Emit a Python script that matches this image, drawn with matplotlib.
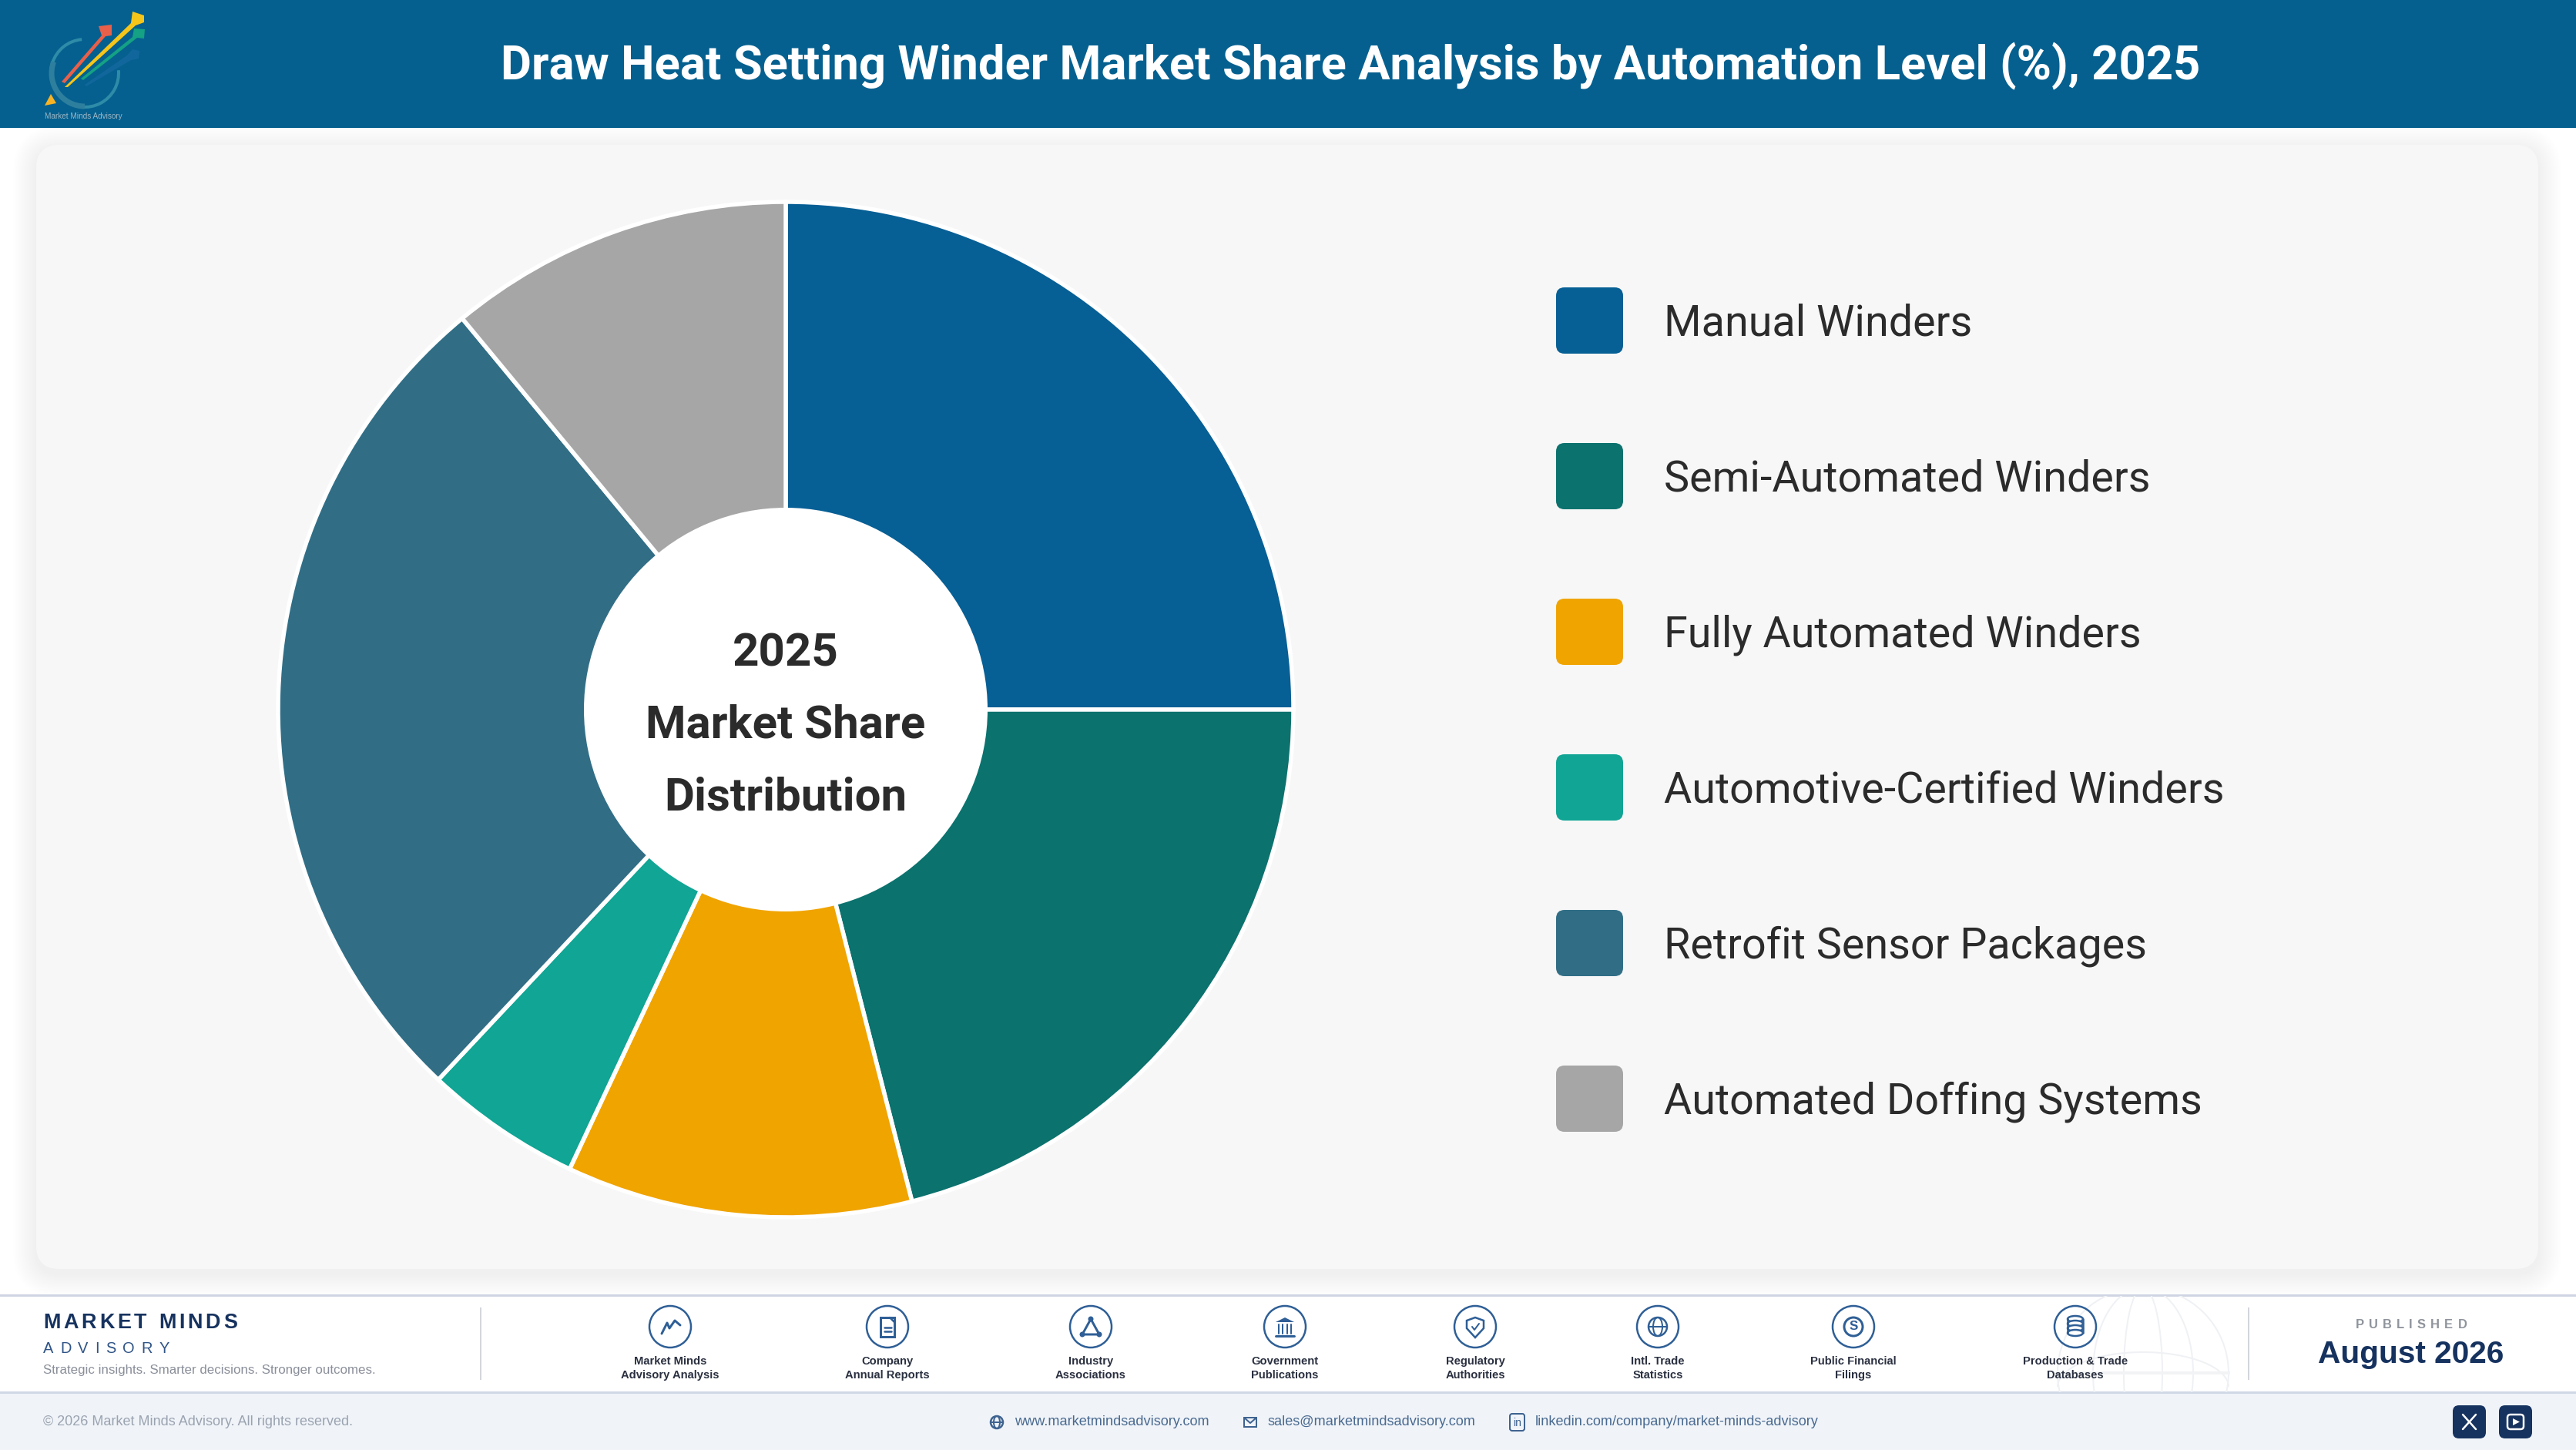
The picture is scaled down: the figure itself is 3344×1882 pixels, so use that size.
#!/usr/bin/env python

"""Draw Heat Setting Winder market share donut, with the report header and footer."""

import numpy as np
import matplotlib
matplotlib.use("Agg")
import matplotlib.pyplot as plt
from matplotlib.patches import FancyBboxPatch, Circle, Ellipse, Arc, Polygon, Rectangle
from matplotlib.font_manager import FontProperties

W, H = 3344, 1882
DPI = 100

title = "Draw Heat Setting Winder Market Share Analysis by Automation Level (%), 2025"
categories = [
    "Manual Winders",
    "Semi-Automated Winders",
    "Fully Automated Winders",
    "Automotive-Certified Winders",
    "Retrofit Sensor Packages",
    "Automated Doffing Systems",
]
shares = [25, 21, 11, 5, 27, 11]
colors = ["#065F95", "#0B726E", "#F0A400", "#10A594", "#316E86", "#A6A6A6"]
center_lines = ["2025", "Market Share", "Distribution"]
source_labels = [
    "Market Minds\nAdvisory Analysis",
    "Company\nAnnual Reports",
    "Industry\nAssociations",
    "Government\nPublications",
    "Regulatory\nAuthorities",
    "Intl. Trade\nStatistics",
    "Public Financial\nFilings",
    "Production & Trade\nDatabases",
]
source_x = [870, 1152, 1416, 1668, 1915, 2152, 2406, 2694]

NAVY = "#16325F"
ICON = "#2F5F96"
HEAD = "#05608F"
DARK = "#2B2B2B"
SANS = "Liberation Sans"


def pt(px):
    # sizes below are given in image pixels
    return px * 72 / DPI


fig = plt.figure(figsize=(W / DPI, H / DPI), dpi=DPI, facecolor="white")
bg = fig.add_axes([0, 0, 1, 1])
bg.set_xlim(0, W)
bg.set_ylim(H, 0)
bg.set_axis_off()


def box(x0, y0, x1, y1, color, r=0, **kw):
    p = FancyBboxPatch((x0, y0), x1 - x0, y1 - y0, boxstyle=f"round,pad=0,rounding_size={r}",
                       fc=color, ec="none", **kw)
    bg.add_patch(p)
    return p


def spaced(x, y, s, size, gap, center=False, **kw):
    # matplotlib has no letter spacing, so place it one character at a time
    fp = FontProperties(family=SANS, weight=kw.pop("weight", "normal"), size=pt(size))
    rend = fig.canvas.get_renderer()
    widths = [rend.get_text_width_height_descent(s[:i], fp, False)[0] if i else 0
              for i in range(len(s) + 1)]
    total = widths[-1] + gap * (len(s) - 1)
    start = x - total / 2 if center else x
    for i, ch in enumerate(s):
        bg.text(start + widths[i] + gap * i, y, ch, fontproperties=fp, ha="left", va="center", **kw)


# header band
bg.add_patch(Rectangle((0, 0), W, 166, fc=HEAD, ec="none"))
bg.text(1753, 86, title, family="Roboto", weight="bold", size=pt(61.5), color="white",
        ha="center", va="center")

# logo
bg.add_patch(Arc((110, 95), 88, 88, theta1=-5, theta2=265, ec="#2E8CA8", lw=pt(4)))
bg.add_patch(Arc((110, 95), 86, 86, theta1=90, theta2=200, ec="#2E7F9E", lw=pt(7)))
bg.add_patch(Polygon([(80, 106), (132, 46), (128, 34), (145, 32), (145, 46), (137, 47), (84, 108)], fc="#E8604A"))
bg.add_patch(Polygon([(84, 113), (170, 30), (172, 15), (187, 20), (187, 29), (176, 33), (88, 113)], fc="#F6C519"))
bg.add_patch(Polygon([(105, 102), (172, 48), (174, 37), (188, 38), (187, 50), (178, 49), (108, 104)], fc="#14A184"))
bg.add_patch(Polygon([(110, 110), (165, 72), (172, 64), (181, 66), (180, 76), (170, 78), (112, 112)], fc="#1A6DA5", alpha=0.6))
bg.add_patch(Polygon([(58, 137), (73, 134), (66, 122)], fc="#F8B324"))
bg.text(58, 151, "Market Minds Advisory", family=SANS, size=pt(10), color="#9DB6C4", va="center")

# card with soft shadow
for grow in range(30, 0, -2):
    box(47 - grow, 188 - grow + 6, 3295 + grow, 1647 + grow + 6, "black", r=30 + grow, alpha=0.004, zorder=1)
box(47, 188, 3295, 1647, "#F7F7F7", r=30, zorder=2)

# donut
cx, cy, rad, hole = 1020, 921, 659, 262
pie_ax = fig.add_axes([(cx - rad) / W, 1 - (cy + rad) / H, 2 * rad / W, 2 * rad / H])
pie_ax.pie(shares, colors=colors, startangle=90, counterclock=False, radius=1,
           wedgeprops=dict(edgecolor="white", linewidth=pt(5.5), clip_on=False))
pie_ax.add_patch(Circle((0, 0), hole / rad, fc="white", ec="none", zorder=5))
pie_ax.set_xlim(-1, 1)
pie_ax.set_ylim(-1, 1)
pie_ax.set_axis_off()

for line, y in zip(center_lines, [848, 942, 1036]):
    fig.text(cx / W, 1 - y / H, line, family="Roboto", weight="bold", size=pt(60), color=DARK,
             ha="center", va="center", zorder=10)

# legend
legend_y = [416, 618, 820, 1022, 1224, 1426]
for name, col, y in zip(categories, colors, legend_y):
    box(2020, y - 43, 2107, y + 43, col, r=11, zorder=3)
    bg.text(2160, y + 4, name, family="Roboto", size=pt(55.7), color=DARK, va="center", zorder=3)

# footer bands
bg.add_patch(Rectangle((0, 1682), W, 125, fc="white", ec="none", zorder=3))
bg.add_patch(Rectangle((0, 1807), W, H - 1807, fc="#F0F4F9", ec="none", zorder=3))
bg.plot([0, W], [1681, 1681], color="#D0D5E3", lw=pt(3), zorder=4)
bg.plot([0, W], [1807, 1807], color="#D0D8E6", lw=pt(3), zorder=4)
bg.plot([624, 624], [1698, 1790], color="#D3D6DB", lw=pt(2), zorder=4)
bg.plot([2919, 2919], [1698, 1790], color="#D3D6DB", lw=pt(2), zorder=4)

# faint globe behind the footer
clip = Rectangle((0, 1682), W, 125, transform=bg.transData)
for w in [222, 130, 50]:
    e = Ellipse((2782, 1782), w, 222, fc="none", ec="#EFF1F4", lw=pt(2), zorder=4)
    bg.add_patch(e)
    e.set_clip_path(clip)
e = Arc((2782, 1800), 222, 90, theta1=180, theta2=360, ec="#EFF1F4", lw=pt(2), zorder=4)
bg.add_patch(e)
e.set_clip_path(clip)
bg.plot([2671, 2893], [1782, 1782], color="#F2F3F5", lw=pt(4), zorder=4)

spaced(56, 1717, "MARKET MINDS", 27, 3.9, weight="bold", color=NAVY, zorder=5)
spaced(56, 1750, "ADVISORY", 20, 8.6, color="#2F5486", zorder=5)
bg.text(56, 1778, "Strategic insights. Smarter decisions. Stronger outcomes.", family=SANS, size=pt(16.9),
        color="#8A8F99", va="center", zorder=5)
spaced(3130, 1720, "PUBLISHED", 16.5, 6.2, center=True, weight="bold", color="#8F949C", zorder=5)
bg.text(3130, 1758, "August 2026", family=SANS, weight="bold", size=pt(40.6), color=NAVY,
        ha="center", va="center", zorder=5)

bg.text(56, 1846, "\u00a9 2026 Market Minds Advisory. All rights reserved.", family=SANS, size=pt(18),
        color="#9AA3B0", va="center", zorder=5)
for x, s in zip([1317, 1646, 1993], ["www.marketmindsadvisory.com", "sales@marketmindsadvisory.com",
                                     "linkedin.com/company/market-minds-advisory"]):
    bg.text(x, 1846, s, family=SANS, size=pt(18.1), color="#4A6A90", va="center", zorder=5)


def ln(xs, ys, color=ICON, lw=2.5):
    bg.plot(xs, ys, color=color, lw=pt(lw), zorder=6, solid_capstyle="round", solid_joinstyle="round")


def ring(x, y, r, color=ICON, lw=2.5, fill="none"):
    bg.add_patch(Circle((x, y), r, fc=fill, ec=color, lw=pt(lw), zorder=6))


def rect(x0, y0, x1, y1, color=ICON, lw=2.5, fill="none"):
    bg.add_patch(Rectangle((x0, y0), x1 - x0, y1 - y0, fc=fill, ec=color, lw=pt(lw), zorder=6))


def globe_icon(x, y, r, color=ICON):
    ring(x, y, r, color)
    bg.add_patch(Ellipse((x, y), r, 2 * r, fc="none", ec=color, lw=pt(2), zorder=6))
    ln([x - r, x + r], [y, y], color, 2)


# source icons, one small drawing for each column
ix, iy = source_x[0], 1722
ln([ix - 11, ix - 4, ix - 1, ix + 6, ix + 13], [iy + 9, iy - 5, iy + 2, iy - 8, iy - 2], lw=3)
ix = source_x[1]
rect(ix - 9, iy - 12, ix + 9, iy + 13, lw=3)
ln([ix - 4, ix + 5], [iy + 1, iy + 1])
ln([ix - 4, ix + 5], [iy + 6, iy + 6])
ln([ix + 3, ix + 9], [iy - 12, iy - 6])
ix = source_x[2]
ln([ix, ix - 11, ix + 11, ix], [iy - 10, iy + 10, iy + 10, iy - 10], lw=3)
for dx, dy in [(0, -10), (-11, 10), (11, 10)]:
    bg.add_patch(Circle((ix + dx, iy + dy), 3.5, fc=ICON, ec="none", zorder=6))
ix = source_x[3]
bg.add_patch(Polygon([(ix - 12, iy - 6), (ix, iy - 12), (ix + 12, iy - 6)], fc=ICON, zorder=6))
for dx in [-8, -3, 3, 8]:
    ln([ix + dx, ix + dx], [iy - 3, iy + 9], lw=2)
ln([ix - 12, ix + 12], [iy + 12, iy + 12], lw=3)
ix = source_x[4]
bg.add_patch(Polygon([(ix, iy - 12), (ix + 11, iy - 8), (ix + 11, iy + 2), (ix, iy + 14), (ix - 11, iy + 2), (ix - 11, iy - 8)],
                     fc="none", ec=ICON, lw=pt(2.5), zorder=6))
ln([ix - 4, ix - 1, ix + 5], [iy, iy + 4, iy - 4], lw=2)
ix = source_x[5]
globe_icon(ix, iy, 12)
ix = source_x[6]
ring(ix, iy, 12, lw=3)
bg.text(ix, iy, "S", family=SANS, weight="bold", size=pt(17), color=ICON, ha="center", va="center", zorder=6)
ix = source_x[7]
for dy in [-10, -4, 2, 8]:
    bg.add_patch(Ellipse((ix, iy + dy), 20, 8, fc="white", ec=ICON, lw=pt(2.5), zorder=6))
ln([ix - 10, ix - 10], [iy - 10, iy + 8])
ln([ix + 10, ix + 10], [iy - 10, iy + 8])

for x, label in zip(source_x, source_labels):
    ring(x, 1722, 27, lw=2.5, fill="none")
    top, bottom = label.split("\n")
    bg.text(x, 1767, top, family=SANS, weight="bold", size=pt(14.8), color="#2A3040", ha="center", va="center", zorder=6)
    bg.text(x, 1785, bottom, family=SANS, weight="bold", size=pt(14.8), color="#2A3040", ha="center", va="center", zorder=6)

# bottom contact icons
globe_icon(1294, 1846, 8, "#3F6390")
rect(1615, 1840, 1631, 1852, "#3F6390", lw=2)
ln([1615, 1623, 1631], [1840, 1847, 1840], "#3F6390", 2)
box(1960, 1835, 1979, 1857, "none", r=3, zorder=6).set(ec="#3F6390", lw=pt(2))
bg.text(1969.5, 1847, "in", family=SANS, size=pt(14), color="#3F6390", ha="center", va="center", zorder=7)

# social buttons
box(3184, 1824, 3227, 1867, NAVY, r=8, zorder=6)
box(3244, 1824, 3287, 1867, NAVY, r=8, zorder=6)
ln([3197, 3214], [1836, 1855], "white", 2.5)
ln([3214, 3197], [1836, 1855], "white", 2.5)
box(3255, 1836, 3276, 1855, "none", r=4, zorder=7).set(ec="white", lw=pt(2.5))
bg.add_patch(Polygon([(3262, 1841), (3271, 1845.5), (3262, 1850)], fc="white", zorder=7))

fig.savefig("out.png", dpi=DPI)
